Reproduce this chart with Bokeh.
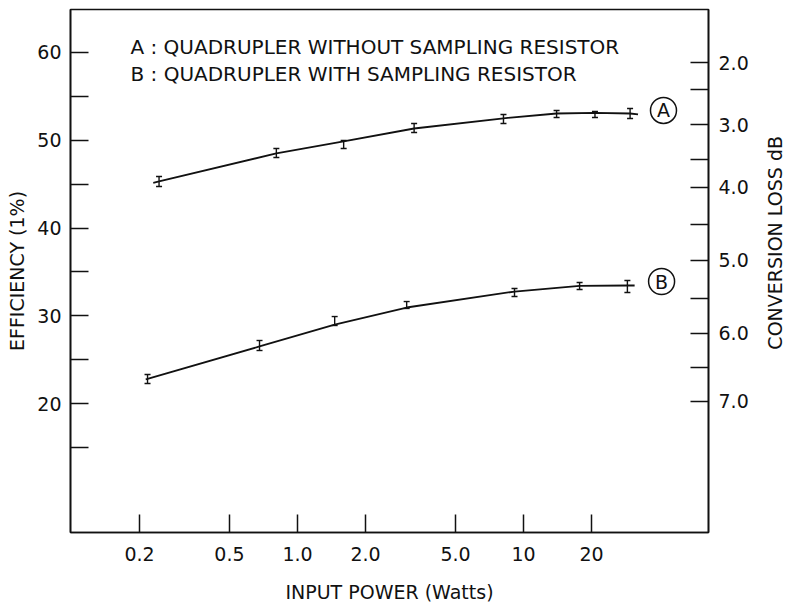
import math
from bokeh.plotting import figure
from bokeh.layouts import row
from bokeh.models import (FixedTicker, LinearAxis, Whisker, TeeHead,
                          ColumnDataSource, Label, Div)
from bokeh.embed import file_html
from bokeh.resources import INLINE

# ---------------- data ----------------
# Curve A: quadrupler without sampling resistor
a_x = [0.244, 0.806, 1.60, 3.28, 8.15, 14.0, 20.7, 29.6]
a_lo = [44.73, 48.03, 49.06, 50.88, 51.91, 52.59, 52.59, 52.48]
a_hi = [45.87, 49.06, 49.97, 51.91, 52.93, 53.39, 53.28, 53.62]
a_curve_x = [0.23, 0.244, 0.806, 1.60, 3.28, 8.15, 14.0, 20.7, 29.6, 32.1]
a_curve_y = [45.15, 45.3, 48.5, 49.86, 51.34, 52.5, 53.05, 53.12, 53.05, 52.95]

# Curve B: quadrupler with sampling resistor
b_x = [0.217, 0.679, 1.46, 3.04, 9.12, 17.7, 28.8]
b_lo = [22.28, 26.04, 28.89, 30.83, 32.19, 32.99, 32.65]
b_hi = [23.30, 27.18, 29.91, 31.62, 33.11, 33.79, 34.02]
b_curve_x = [0.213, 0.217, 0.679, 1.46, 3.04, 9.12, 17.7, 28.8, 31.0]
b_curve_y = [22.75, 22.8, 26.5, 29.0, 30.94, 32.76, 33.4, 33.45, 33.45]

# axes
x_ticks = [0.2, 0.5, 1.0, 2.0, 5.0, 10.0, 20.0]
x_tick_labels = ["0.2", "0.5", "1.0", "2.0", "5.0", "10", "20"]
eff_major = [20, 30, 40, 50, 60]
eff_minor = [15, 25, 35, 45, 55]
# right axis: conversion loss (dB) ticks, at their efficiency-scale positions
db_labels = ["2.0", "3.0", "4.0", "5.0", "6.0", "7.0"]
db_major_pos = [58.86, 51.79, 44.62, 36.30, 27.98, 20.23]
db_minor_pos = [55.78, 47.81, 40.40, 31.97, 24.10]

legend_lines = ["A : QUADRUPLER WITHOUT SAMPLING RESISTOR",
                "B : QUADRUPLER WITH SAMPLING RESISTOR"]
curve_tags = ["A", "B"]
x_title = "INPUT POWER (Watts)"
y_title = "EFFICIENCY (1%)"
y2_title = "CONVERSION LOSS dB"

FONT = "DejaVu Sans"
INK = "#111111"

p = figure(width=763, height=606, x_axis_type="log",
           x_range=(0.099, 65.8), y_range=(5.3, 64.9),
           output_backend="svg", toolbar_location=None,
           min_border_left=70, min_border_right=55,
           min_border_top=9, min_border_bottom=74,
           background_fill_color="white", border_fill_color="white")
p.grid.visible = False
p.outline_line_color = INK
p.outline_line_width = 1.6


def style_axis(ax):
    ax.axis_line_color = INK
    ax.axis_line_width = 1.6
    ax.major_tick_in = 18
    ax.major_tick_out = 0
    ax.minor_tick_in = 18
    ax.minor_tick_out = 0
    ax.major_tick_line_color = INK
    ax.major_tick_line_width = 1.5
    ax.minor_tick_line_color = INK
    ax.minor_tick_line_width = 1.5
    ax.major_label_text_font = FONT
    ax.major_label_text_font_size = "19px"
    ax.major_label_text_color = INK
    ax.axis_label_text_font = FONT
    ax.axis_label_text_font_size = "19px"
    ax.axis_label_text_font_style = "normal"
    ax.axis_label_text_color = INK


# bottom (log) axis
xa = p.xaxis[0]
style_axis(xa)
xa.ticker = FixedTicker(ticks=x_ticks, minor_ticks=[])
xa.major_label_overrides = dict(zip(x_ticks, x_tick_labels))
xa.minor_tick_line_color = None
xa.major_label_standoff = 14
xa.axis_label = x_title
xa.axis_label_standoff = 17

# left axis
ya = p.yaxis[0]
style_axis(ya)
ya.ticker = FixedTicker(ticks=eff_major, minor_ticks=eff_minor)
ya.major_label_standoff = 9
ya.axis_label = y_title
ya.axis_label_standoff = 6

# right axis (ticks and labels; its title is set beside the figure)
ra = LinearAxis(ticker=FixedTicker(ticks=db_major_pos, minor_ticks=db_minor_pos))
style_axis(ra)
ra.major_label_overrides = dict(zip(db_major_pos, db_labels))
ra.major_label_standoff = 10
p.add_layout(ra, "right")

# curves
p.line(a_curve_x, a_curve_y, line_color=INK, line_width=1.8)
p.line(b_curve_x, b_curve_y, line_color=INK, line_width=1.8)

# error bars
for xs, lo, hi in ((a_x, a_lo, a_hi), (b_x, b_lo, b_hi)):
    src = ColumnDataSource(dict(x=xs, lower=lo, upper=hi))
    w = Whisker(source=src, base="x", lower="lower", upper="upper",
                dimension="height", line_color=INK, line_width=1.4,
                upper_head=TeeHead(size=6, line_color=INK, line_width=1.4),
                lower_head=TeeHead(size=6, line_color=INK, line_width=1.4))
    p.add_layout(w)

# circled curve tags
tag_x = [41.6, 40.8]
tag_y = [53.4, 33.9]
p.scatter(tag_x, tag_y, marker="circle", size=26, fill_color=None,
          line_color=INK, line_width=1.5)
for tx, ty, t in zip(tag_x, tag_y, curve_tags):
    p.add_layout(Label(x=tx, y=ty, text=t, text_align="center",
                       text_baseline="middle", text_font=FONT,
                       text_font_size="19px", text_color=INK))

# legend text
for ly, txt in zip([60.57, 57.6], legend_lines):
    p.add_layout(Label(x=0.1824, y=ly, text=txt, text_align="left",
                       text_baseline="middle", text_font=FONT,
                       text_font_size="20px", text_color=INK))

# right-hand axis title, reading bottom to top
title_html = (
    '<div style="margin-top:136px; margin-left:0px; writing-mode:vertical-rl; '
    'transform:rotate(180deg); white-space:nowrap; line-height:24px; '
    "font-family:'DejaVu Sans'; font-size:19px; color:#111111;\">"
    + y2_title + "</div>")
right_title = Div(text=title_html, width=26, height=606, margin=(0, 0, 0, 0))

layout = row(p, right_title, spacing=0)
open("out.html", "w").write(file_html(layout, INLINE))
